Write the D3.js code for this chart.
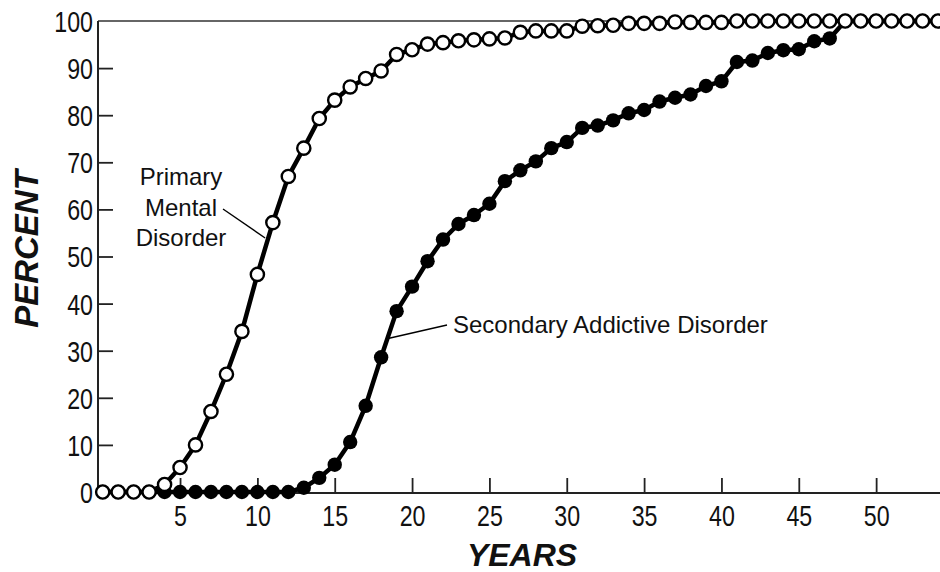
<!DOCTYPE html>
<html>
<head>
<meta charset="utf-8">
<script src="https://cdn.jsdelivr.net/npm/d3@7"></script>
<style>
  html, body { margin: 0; padding: 0; background: #fff; }
  svg { display: block; }
  text { font-family: "Liberation Sans", Arial, Helvetica, sans-serif; fill: #111; }
</style>
</head>
<body>
<svg id="chart" width="940" height="572"></svg>
<script>
const years = [0,1,2,3,4,5,6,7,8,9,10,11,12,13,14,15,16,17,18,19,20,21,22,23,24,25,26,27,28,29,30,31,32,33,34,35,36,37,38,39,40,41,42,43,44,45,46,47,48,49,50,51,52,53,54];
const primaryMental = [0,0,0,0,1.6,5.2,10,17.1,25,34.1,46.2,57.2,67,73,79.3,83.2,86,87.8,89.4,92.9,93.9,95.1,95.4,95.8,96,96.2,96.4,97.6,97.9,97.9,97.9,98.9,99,99.1,99.5,99.5,99.5,99.8,99.7,99.7,99.7,100,100,100,100,100,100,100,100,100,100,100,100,100,100];
const secondaryAddictive = [0,0,0,0,0,0,0,0,0,0,0,0,0,0.9,3,5.8,10.6,18.3,28.6,38.4,43.6,49,53.6,56.9,58.8,61.2,66,68.3,70.2,73,74.3,77.3,77.8,78.9,80.4,81.1,82.9,83.7,84.4,86.2,87.2,91.3,91.6,93.2,93.8,94,95.7,96.3,100,100,100,100,100,100,100];
const xTicks = [5,10,15,20,25,30,35,40,45,50];
const yTicks = [0,10,20,30,40,50,60,70,80,90,100];
const seriesLabels = ["Primary Mental Disorder", "Secondary Addictive Disorder"];
const xTitle = "YEARS";
const yTitle = "PERCENT";

const svg = d3.select("#chart");
const axisLeftX = 98, axisRightX = 940;
const x = d3.scaleLinear().domain([0, 54]).range([102.7, 938]);
const y = d3.scaleLinear().domain([0, 100]).range([492, 21]);
const sx = 0.8; // condensed tick digits

// top border
svg.append("line").attr("x1", axisLeftX).attr("x2", axisRightX)
  .attr("y1", y(100)).attr("y2", y(100))
  .attr("stroke", "#333").attr("stroke-width", 1.6);

// x axis
const gx = svg.append("g").attr("transform", `translate(0,${y(0) + 1})`)
  .call(d3.axisBottom(x).tickValues(xTicks).tickSize(-15).tickSizeOuter(0).tickPadding(0));
gx.select(".domain").remove();
gx.selectAll(".tick line").attr("stroke", "#222").attr("stroke-width", 1.8);
gx.selectAll(".tick text")
  .attr("y", 33).attr("dy", 0)
  .attr("font-size", 29)
  .attr("transform", `scale(${sx},1)`)
  .style("font-family", '"Liberation Sans", Arial, sans-serif')
  .attr("fill", "#111");
svg.append("line").attr("x1", axisLeftX).attr("x2", axisRightX)
  .attr("y1", y(0) + 1).attr("y2", y(0) + 1)
  .attr("stroke", "#222").attr("stroke-width", 2);

// y axis
const gy = svg.append("g").attr("transform", `translate(${axisLeftX},0)`)
  .call(d3.axisLeft(y).tickValues(yTicks).tickSize(-15).tickSizeOuter(0).tickPadding(0));
gy.select(".domain").remove();
gy.selectAll(".tick line")
  .attr("stroke", "#222").attr("stroke-width", 1.8)
  .filter(d => d === 0 || d === 100).remove();
gy.selectAll(".tick text")
  .attr("x", -5 / sx).attr("dy", "0.36em")
  .attr("font-size", 29)
  .attr("text-anchor", "end")
  .attr("transform", `scale(${sx},1)`)
  .style("font-family", '"Liberation Sans", Arial, sans-serif')
  .attr("fill", "#111");
svg.append("line").attr("x1", axisLeftX).attr("x2", axisLeftX)
  .attr("y1", y(100)).attr("y2", y(0) + 2)
  .attr("stroke", "#222").attr("stroke-width", 2);

// axis titles
svg.append("text").text(xTitle)
  .attr("x", 522).attr("y", 566)
  .attr("text-anchor", "middle")
  .attr("font-size", 32).attr("font-weight", "bold").attr("font-style", "italic");
svg.append("text").text(yTitle)
  .attr("transform", "translate(38,249) rotate(-90)")
  .attr("text-anchor", "middle")
  .attr("font-size", 33).attr("font-weight", "bold").attr("font-style", "italic");

const line = d3.line().x((d, i) => x(years[i])).y(d => y(d));

// secondary series (filled)
svg.append("path").datum(secondaryAddictive)
  .attr("d", line).attr("fill", "none").attr("stroke", "#000").attr("stroke-width", 4.5)
  .attr("stroke-linejoin", "round");
svg.append("g").selectAll("circle").data(secondaryAddictive).join("circle")
  .attr("cx", (d, i) => x(years[i])).attr("cy", d => y(d))
  .attr("r", 7.2).attr("fill", "#000");

// primary series (open)
svg.append("path").datum(primaryMental)
  .attr("d", line).attr("fill", "none").attr("stroke", "#000").attr("stroke-width", 4.5)
  .attr("stroke-linejoin", "round");
svg.append("g").selectAll("circle").data(primaryMental).join("circle")
  .attr("cx", (d, i) => x(years[i])).attr("cy", d => y(d))
  .attr("r", 6.6).attr("fill", "#fff").attr("stroke", "#000").attr("stroke-width", 2.4);

// annotations
const ann1 = svg.append("text").attr("font-size", 24).attr("text-anchor", "middle");
["Primary", "Mental", "Disorder"].forEach((w, i) => {
  ann1.append("tspan").attr("x", 181).attr("y", 185 + i * 30.5).text(w);
});
svg.append("line").attr("x1", 223).attr("y1", 209).attr("x2", x(10.5)).attr("y2", 238)
  .attr("stroke", "#000").attr("stroke-width", 1.4);

svg.append("text").text(seriesLabels[1])
  .attr("x", 453).attr("y", 333)
  .attr("font-size", 24);
svg.append("line").attr("x1", 447).attr("y1", 325).attr("x2", 388).attr("y2", 338.5)
  .attr("stroke", "#000").attr("stroke-width", 1.4);
</script>
</body>
</html>
